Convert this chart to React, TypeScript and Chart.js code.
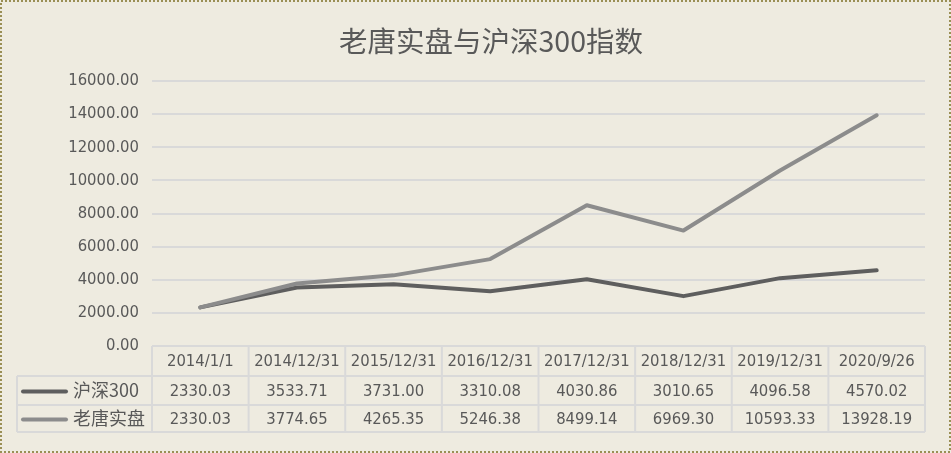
import { Chart, registerables } from 'chart.js';
import { useEffect, useRef } from 'react';

Chart.register(...registerables);

const title = '老唐实盘与沪深300指数';
const categories = ['2014/1/1', '2014/12/31', '2015/12/31', '2016/12/31', '2017/12/31', '2018/12/31', '2019/12/31', '2020/9/26'];
const hs300Label = '沪深300';
const hs300 = [2330.03, 3533.71, 3731.0, 3310.08, 4030.86, 3010.65, 4096.58, 4570.02];
const laotangLabel = '老唐实盘';
const laotang = [2330.03, 3774.65, 4265.35, 5246.38, 8499.14, 6969.3, 10593.33, 13928.19];
const yMax = 16000;
const yStep = 2000;

const BG = '#EEEBE0';
const TEXT = '#595959';
const GRID = '#D9D9D9';
const DARK = '#5E5E5E';
const LIGHT = '#8C8C8C';
const NUM_FONT = '"DejaVu Sans Condensed", "Liberation Sans", sans-serif';
const CJK_FONT = '"Noto Sans CJK SC", sans-serif';

// background, title, border and the data table under the plot
const tablePlugin = {
  id: 'excelTable',
  beforeDraw(chart: Chart) {
    const { ctx, width, height } = chart;
    ctx.save();
    ctx.fillStyle = BG;
    ctx.fillRect(0, 0, width, height);
    ctx.restore();
  },
  afterDraw(chart: Chart) {
    const { ctx, width, height, chartArea } = chart;
    const xs = chart.scales.x;
    const top = chartArea.bottom;
    const rows = [top, top + 30, top + 59, top + 86];
    const colW = (chartArea.right - chartArea.left) / categories.length;
    const headLeft = 17;

    ctx.save();
    // title
    ctx.fillStyle = TEXT;
    ctx.font = `28.5px ${CJK_FONT}`;
    ctx.textAlign = 'center';
    ctx.textBaseline = 'middle';
    ctx.fillText(title, 491, 41);

    // table grid
    ctx.strokeStyle = GRID;
    ctx.lineWidth = 2;
    ctx.beginPath();
    ctx.moveTo(chartArea.left, rows[0]);
    ctx.lineTo(chartArea.right, rows[0]);
    for (let r = 1; r < rows.length; r++) {
      ctx.moveTo(headLeft, rows[r]);
      ctx.lineTo(chartArea.right, rows[r]);
    }
    for (let c = 0; c <= categories.length; c++) {
      const x = chartArea.left + c * colW;
      ctx.moveTo(x, rows[0]);
      ctx.lineTo(x, rows[3]);
    }
    ctx.moveTo(headLeft, rows[1]);
    ctx.lineTo(headLeft, rows[3]);
    ctx.stroke();

    // cells
    ctx.fillStyle = TEXT;
    ctx.font = `16.5px ${NUM_FONT}`;
    categories.forEach((cat, i) => {
      const x = xs.getPixelForValue(i);
      ctx.fillText(cat, x, (rows[0] + rows[1]) / 2 + 1);
      ctx.fillText(hs300[i].toFixed(2), x, (rows[1] + rows[2]) / 2 + 1);
      ctx.fillText(laotang[i].toFixed(2), x, (rows[2] + rows[3]) / 2 + 1);
    });

    // row headers with legend keys
    const series = [
      { label: hs300Label, color: DARK },
      { label: laotangLabel, color: LIGHT },
    ];
    series.forEach((s, i) => {
      const y = (rows[i + 1] + rows[i + 2]) / 2;
      ctx.strokeStyle = s.color;
      ctx.lineWidth = 4;
      ctx.lineCap = 'round';
      ctx.beginPath();
      ctx.moveTo(23, y + 1);
      ctx.lineTo(66, y + 1);
      ctx.stroke();
      ctx.fillStyle = TEXT;
      ctx.font = `18px ${CJK_FONT}`;
      ctx.textAlign = 'left';
      ctx.fillText(s.label, 73, y);
    });

    // dotted outer border
    ctx.strokeStyle = '#9A8F55';
    ctx.lineWidth = 2;
    ctx.lineCap = 'butt';
    ctx.setLineDash([2, 2]);
    ctx.strokeRect(1, 1, width - 2, height - 2);
    ctx.restore();
  },
};

const App: React.FC = () => {
  const ref = useRef<HTMLCanvasElement>(null);
  const chartInstance = useRef<Chart | null>(null);

  useEffect(() => {
    if (!ref.current) return;
    if (chartInstance.current) chartInstance.current.destroy();

    chartInstance.current = new Chart(ref.current, {
      type: 'line',
      data: {
        labels: categories,
        datasets: [
          {
            label: hs300Label,
            data: hs300,
            borderColor: DARK,
            borderWidth: 4,
            tension: 0,
            pointRadius: 0,
            borderCapStyle: 'round',
            borderJoinStyle: 'round',
            order: 2,
          },
          {
            label: laotangLabel,
            data: laotang,
            borderColor: LIGHT,
            borderWidth: 4,
            tension: 0,
            pointRadius: 0,
            borderCapStyle: 'round',
            borderJoinStyle: 'round',
            order: 1,
          },
        ],
      },
      options: {
        responsive: false,
        animation: false,
        layout: { padding: { left: 0, right: 26, top: 81, bottom: 107 } },
        plugins: {
          legend: { display: false },
          title: { display: false },
          tooltip: { enabled: false },
        },
        scales: {
          x: {
            display: false,
            offset: true,
          },
          y: {
            min: 0,
            max: yMax,
            afterFit: (s: any) => {
              s.width = 152;
            },
            border: { display: false },
            grid: { color: GRID, lineWidth: 2, drawTicks: false },
            ticks: {
              stepSize: yStep,
              padding: 13,
              color: TEXT,
              font: { family: NUM_FONT, size: 16.5 },
              callback: (v: any) => Number(v).toFixed(2),
            },
          },
        },
      },
      plugins: [tablePlugin],
    });

    return () => {
      if (chartInstance.current) {
        chartInstance.current.destroy();
        chartInstance.current = null;
      }
    };
  }, []);

  return (
    <div style={{ position: 'absolute', left: 0, top: 0, width: 951, height: 453 }}>
      <canvas ref={ref} width={951} height={453} style={{ width: 951, height: 453 }}></canvas>
    </div>
  );
};

export default App;
